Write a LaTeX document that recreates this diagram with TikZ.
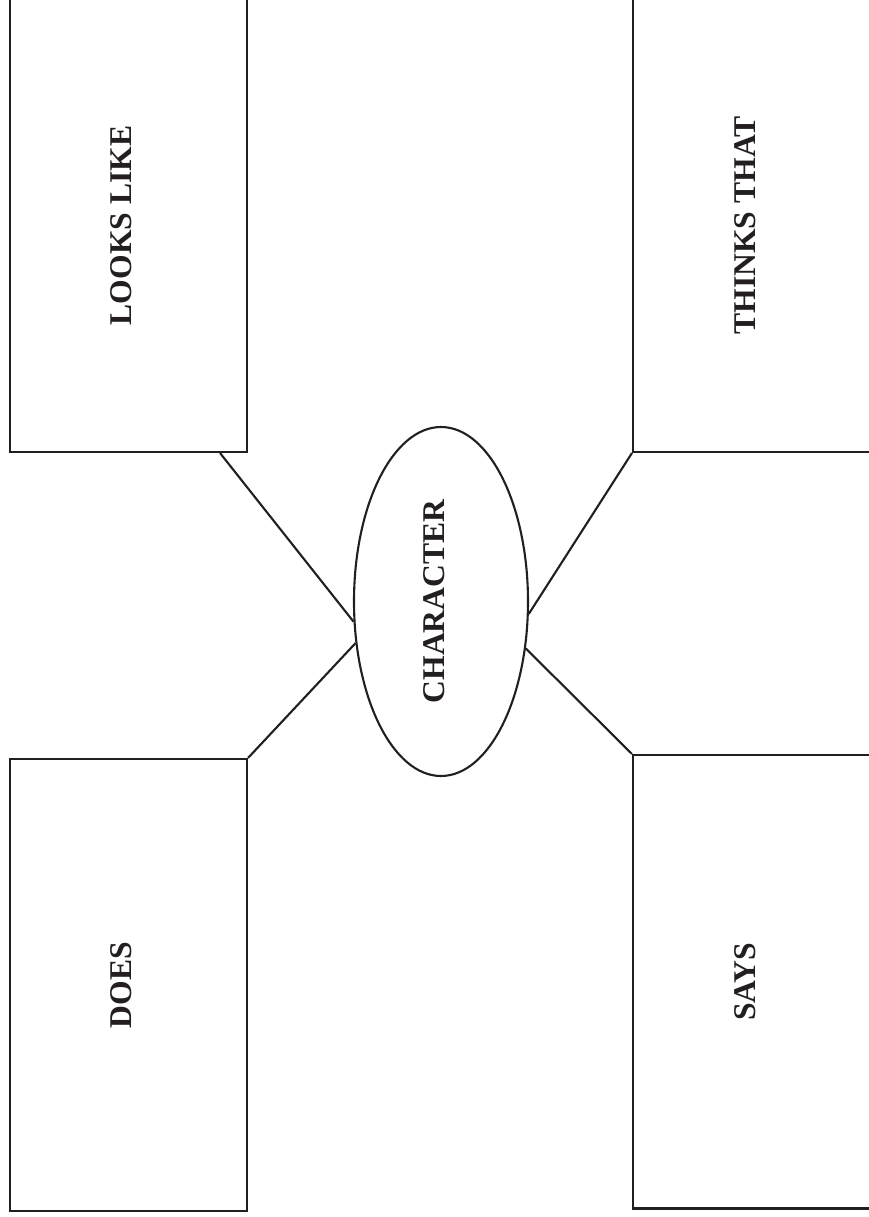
\documentclass[tikz,border=0pt]{standalone}
\usepackage{fontspec}
\setmainfont{Liberation Serif}
\usepackage{tikz}
\usetikzlibrary{calc,shapes.geometric}
\definecolor{ink}{HTML}{231F20}

\begin{document}
\begin{tikzpicture}[color=ink,line width=0.6pt,
    panel/.style={draw,rectangle,rotate=90,minimum height=2.37cm,inner sep=0pt,
                  text depth=4pt,font=\fontsize{9}{11}\selectfont\bfseries},
    hub/.style={draw,ellipse,rotate=90,minimum width=3.49cm,minimum height=1.74cm,
                inner sep=0pt,text depth=4pt,font=\fontsize{9}{11}\selectfont\bfseries}]
  \useasboundingbox (0,0) rectangle (8.69,12.17);
  % four boxes round the hub
  \node[panel,minimum width=4.53cm] (looks) at (1.285,9.915) {LOOKS LIKE};
  \node[panel,minimum width=4.53cm,minimum height=2.38cm] (thinks) at (7.52,9.915) {THINKS THAT};
  \node[panel,minimum width=4.52cm] (does) at (1.285,2.32) {DOES};
  \node[panel,minimum width=4.535cm,minimum height=2.38cm] (says) at (7.52,2.3525) {SAYS};
  \node[hub] (char) at (4.41,6.155) {CHARACTER};
  % spokes
  \draw ($(looks.south west)+(-0.28,0)$) -- (char.103);
  \draw (does.south east) -- (char.116);
  \draw (thinks.north west) -- (char.262);
  \draw (says.north east) -- (char.241);
\end{tikzpicture}
\end{document}
